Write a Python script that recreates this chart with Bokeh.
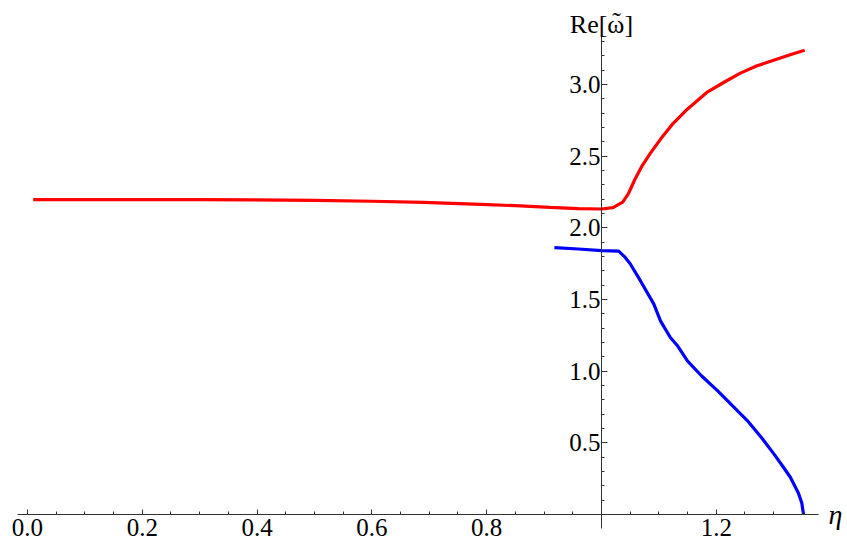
from bokeh.plotting import figure
from bokeh.models import Range1d, FixedTicker, PrintfTickFormatter, Label
from bokeh.embed import file_html
from bokeh.resources import INLINE

# ---- data ----
eta_red = [0.01, 0.1, 0.2, 0.3, 0.39, 0.5, 0.6, 0.69, 0.79, 0.85, 0.91, 0.96, 1.0,
           1.02, 1.037, 1.047, 1.059, 1.071, 1.085, 1.103, 1.125, 1.15, 1.185,
           1.215, 1.242, 1.27, 1.30, 1.33, 1.354]
re_red = [2.198, 2.198, 2.198, 2.197, 2.196, 2.192, 2.186, 2.178, 2.165, 2.155, 2.143,
          2.135, 2.132, 2.142, 2.18, 2.24, 2.345, 2.435, 2.52, 2.62, 2.73, 2.83, 2.95,
          3.02, 3.08, 3.13, 3.17, 3.21, 3.24]

eta_blue = [0.918, 0.96, 1.0, 1.03, 1.04, 1.05, 1.068, 1.091, 1.103, 1.12, 1.132, 1.15,
            1.175, 1.202, 1.228, 1.254, 1.28, 1.30, 1.317, 1.329, 1.343, 1.349, 1.352]
re_blue = [1.863, 1.853, 1.842, 1.838, 1.80, 1.75, 1.63, 1.47, 1.35, 1.235, 1.18, 1.07,
           0.965, 0.865, 0.76, 0.656, 0.53, 0.425, 0.33, 0.26, 0.15, 0.08, 0.0]

x_major = [0.0, 0.2, 0.4, 0.6, 0.8, 1.2]
x_minor = [round(0.05 * i, 2) for i in range(0, 28) if round(0.05 * i, 2) not in x_major]
y_major = [0.5, 1.0, 1.5, 2.0, 2.5, 3.0]
y_minor = [round(0.1 * i, 1) for i in range(1, 34) if round(0.1 * i, 1) not in y_major]

x_bounds = (-0.017, 1.378)
y_bounds = (-0.1, 3.36)

x_label = "η"
y_label = "Re[ω]"
y_label_accent = "˜"

FONT = "Liberation Serif"

p = figure(width=847, height=548,
           x_range=Range1d(-0.047, 1.4286), y_range=Range1d(-0.237, 3.587),
           output_backend="svg", toolbar_location=None,
           min_border_left=0, min_border_right=0,
           min_border_top=0, min_border_bottom=0)
p.grid.visible = False
p.outline_line_color = None
p.background_fill_color = "white"
p.border_fill_color = "white"

p.xaxis.fixed_location = 0
p.yaxis.fixed_location = 1.0
p.xaxis.bounds = x_bounds
p.yaxis.bounds = y_bounds

p.xaxis.ticker = FixedTicker(ticks=x_major, minor_ticks=x_minor)
p.yaxis.ticker = FixedTicker(ticks=y_major, minor_ticks=y_minor)
p.xaxis.formatter = PrintfTickFormatter(format="%.1f")
p.yaxis.formatter = PrintfTickFormatter(format="%.1f")

for ax in (p.xaxis, p.yaxis):
    ax.axis_line_color = "#333333"
    ax.axis_line_width = 1
    ax.major_tick_line_color = "#333333"
    ax.minor_tick_line_color = "#333333"
    ax.major_tick_out = 0
    ax.minor_tick_out = 0
    ax.minor_tick_in = 3
    ax.major_label_text_font = FONT
    ax.major_label_text_font_size = "25px"
    ax.major_label_text_color = "black"

p.xaxis.major_tick_in = 5
p.yaxis.major_tick_in = 6
p.xaxis.major_label_standoff = 4
p.yaxis.major_label_standoff = 1

p.line(eta_red, re_red, line_color="#ff0000", line_width=3.2)
p.line(eta_blue, re_blue, line_color="#0000ff", line_width=3.2)

p.add_layout(Label(x=1.0, y=y_bounds[1], y_offset=9, text=y_label, text_align="center",
                   text_baseline="alphabetic", text_font=FONT,
                   text_font_size="26px", text_color="black"))
p.add_layout(Label(x=1.0, y=y_bounds[1], y_offset=12, x_offset=15, text=y_label_accent,
                   text_align="center", text_baseline="alphabetic", text_font=FONT,
                   text_font_size="26px", text_color="black"))
p.add_layout(Label(x=x_bounds[1], y=0, x_offset=10, text=x_label, text_align="left",
                   text_baseline="middle", text_font=FONT, text_font_style="italic",
                   text_font_size="28px", text_color="black"))

open("out.html", "w").write(file_html(p, INLINE))
